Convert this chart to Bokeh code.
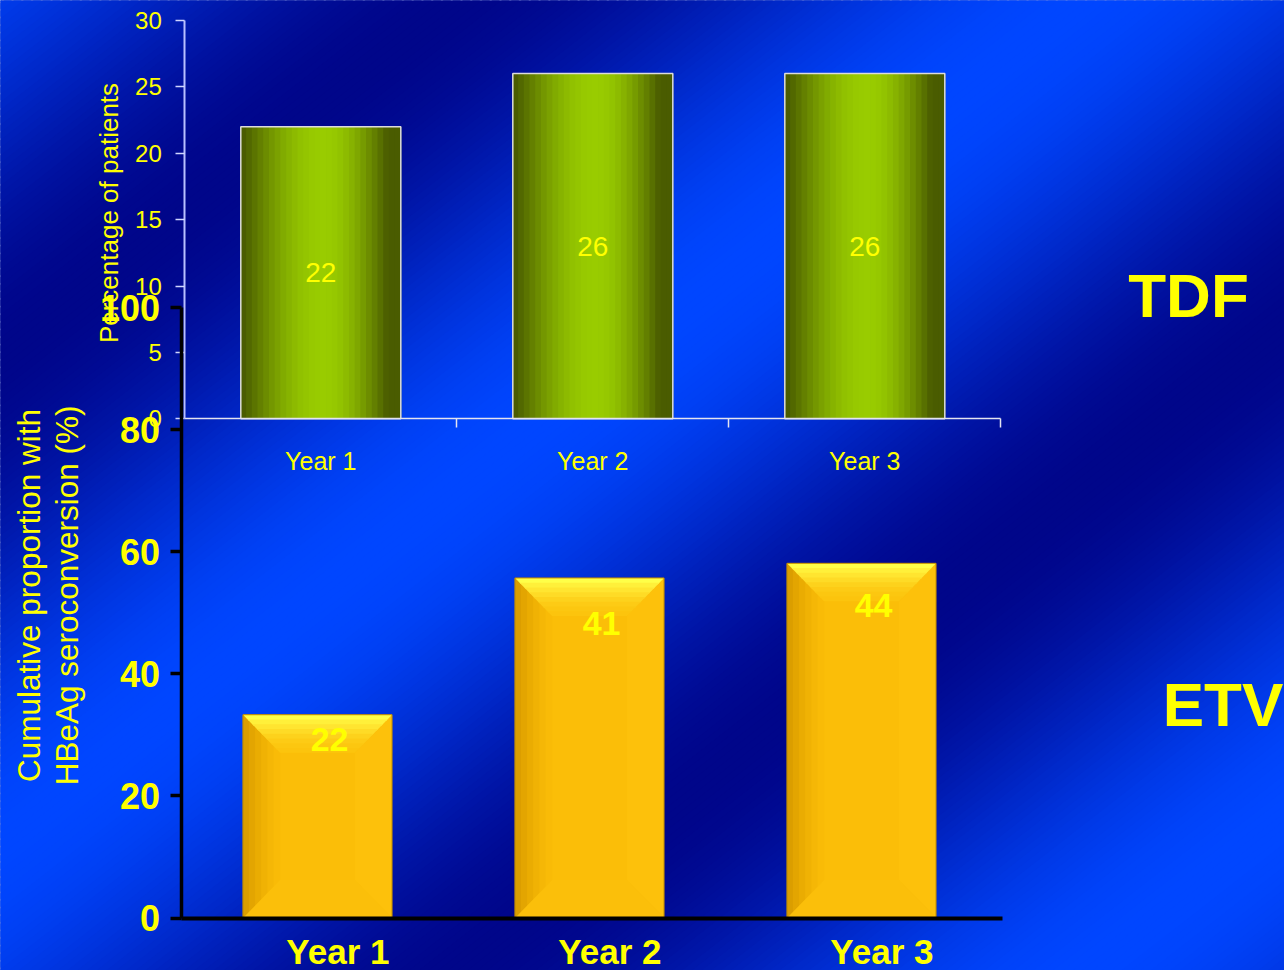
import numpy as np
from bokeh.plotting import figure
from bokeh.models import Range1d, LinearAxis, FixedTicker
from bokeh.core.properties import value
from bokeh.embed import file_html
from bokeh.resources import INLINE

# ---------------- data ----------------
years = ["Year 1", "Year 2", "Year 3"]
tdf_values = [22, 26, 26]
tdf_ticks = [0, 5, 10, 15, 20, 25, 30]
etv_bar_heights = [33.3, 55.7, 58.1]
etv_labels = [22, 41, 44]
etv_ticks = [0, 20, 40, 60, 80, 100]
tdf_title = "Percentage of patients"
etv_title = ["Cumulative proportion with", "HBeAg  seroconversion (%)"]
drug_names = ["TDF", "ETV"]

# ---------------- layout constants (pixels) ----------------
W, H = 1284, 970
FONT = "Liberation Sans"
YEL = "#ffff00"
CAT0, CATW = 184.3, 272.0          # px of category coordinate 0, px per category
TDF0, TDFK = 418.3, 13.28          # px of TDF value 0, px per unit
ETV0, ETVK = 917.5, 6.105          # px of ETV value 0, px per unit

p = figure(width=W, height=H, x_range=Range1d(0, W), y_range=Range1d(H, 0),
           x_axis_type=None, y_axis_type=None, toolbar_location=None,
           output_backend="svg", min_border=0, outline_line_color=None,
           background_fill_color="#0020b0", border_fill_color="#0020b0")
p.title.visible = False
p.extra_x_ranges = {"cat": Range1d(-CAT0 / CATW, (W - CAT0) / CATW)}
p.extra_y_ranges = {"tdf": Range1d(-(H - TDF0) / TDFK, TDF0 / TDFK),
                    "etv": Range1d(-(H - ETV0) / ETVK, ETV0 / ETVK)}

# ---------------- background (diagonal bands) ----------------
nx, ny = 0.615, 0.789
nn = np.hypot(nx, ny); nx /= nn; ny /= nn
ux, uy = ny, -nx
L = 3000
step = 6
dark = np.array([0, 0, 128.0]); bright = np.array([0, 70, 255.0])
bxs, bys, bcols = [], [], []
for t in np.arange(-40, 1750, step):
    t1 = t + step * 1.8
    wgt = (1 - np.cos(2 * np.pi * (t + step / 2 - 280) / 770)) / 2
    wgt = 0.08 + 0.92 * wgt
    c = dark + (bright - dark) * wgt
    bcols.append("#%02x%02x%02x" % tuple(int(round(v)) for v in c))
    bxs.append([nx * t - L * ux, nx * t + L * ux, nx * t1 + L * ux, nx * t1 - L * ux])
    bys.append([ny * t - L * uy, ny * t + L * uy, ny * t1 + L * uy, ny * t1 - L * uy])
p.patches(bxs, bys, fill_color=bcols, line_color=None)

# ---------------- TDF bars (cylindrical gradient) ----------------
tdf_x = [i + 0.5 for i in range(len(years))]
tdf_w = 160 / CATW
n_strip = 28
g_dark = np.array([0x4a, 0x5c, 0x00], float)
g_bright = np.array([0x99, 0xcc, 0x00], float)
sx, stop, scol = [], [], []
for c, v in zip(tdf_x, tdf_values):
    for j in range(n_strip):
        u = (j + 0.5) / n_strip
        if u < 0.52:
            f = max(0.0, np.cos(np.pi * (u - 0.52) / 1.0))
        else:
            f = max(0.0, np.cos(np.pi * (u - 0.52) / 0.8))
        col = g_dark + (g_bright - g_dark) * f
        sx.append(c - tdf_w / 2 + u * tdf_w)
        stop.append(v)
        scol.append("#%02x%02x%02x" % tuple(int(round(q)) for q in col))
p.vbar(x=sx, top=stop, bottom=0, width=tdf_w / n_strip * 1.15, fill_color=scol,
       line_color=None, x_range_name="cat", y_range_name="tdf")
p.vbar(x=tdf_x, top=tdf_values, bottom=0, width=tdf_w, fill_color=None,
       line_color="#dcdcdc", line_width=1.5, x_range_name="cat", y_range_name="tdf")
p.text(x=tdf_x, y=[v / 2 for v in tdf_values], text=[str(v) for v in tdf_values],
       x_range_name="cat", y_range_name="tdf", text_align="center", text_baseline="middle",
       text_font=value(FONT), text_font_size="28px", text_color=YEL)

# ---------------- ETV bars (bevelled) ----------------
etv_x = [i + 0.5 - 0.012 for i in range(len(years))]
etv_w = 149 / CATW
bx = 37 / CATW          # bevel width in category units
by = 38 / ETVK          # bevel height in ETV units
p.vbar(x=etv_x, top=etv_bar_heights, bottom=0, width=etv_w, fill_color="#fbbe08",
       line_color=None, x_range_name="cat", y_range_name="etv")

# left darker gradient strips
lx, ltop, lcol = [], [], []
lcols = ["#db9e00", "#e3a501", "#eaac02", "#f0b204", "#f5b706", "#f9bb07"]
for c, h in zip(etv_x, etv_bar_heights):
    l = c - etv_w / 2
    for j, cc in enumerate(lcols):
        lx.append(l + (j + 0.5) * bx / len(lcols))
        ltop.append(h)
        lcol.append(cc)
p.vbar(x=lx, top=ltop, bottom=0, width=bx / len(lcols) * 1.1, fill_color=lcol,
       line_color=None, x_range_name="cat", y_range_name="etv")

# right and bottom bevels
rxs, rys, bxs2, bys2 = [], [], [], []
for c, h in zip(etv_x, etv_bar_heights):
    l, r = c - etv_w / 2, c + etv_w / 2
    rxs.append([r, r - bx, r - bx, r]); rys.append([h, h - by, by, 0])
    bxs2.append([l, l + bx, r - bx, r]); bys2.append([0, by, by, 0])
p.patches(rxs, rys, fill_color="#fdc10b", line_color=None, x_range_name="cat", y_range_name="etv")
p.patches(bxs2, bys2, fill_color="#fbbf0a", line_color=None, x_range_name="cat", y_range_name="etv")

# top bevel (bright gradient slices)
tcols = ["#ffff48", "#fff03a", "#ffe530", "#fedb26", "#fdd21c", "#fdcb15", "#fcc710", "#fcc40d"]
txs, tys, tcs = [], [], []
ns = len(tcols)
for c, h in zip(etv_x, etv_bar_heights):
    l, r = c - etv_w / 2, c + etv_w / 2
    for k, cc in enumerate(tcols):
        d0, d1 = k / ns, (k + 1) / ns
        d1e = min(1.0, d1 + 0.3 / ns)
        txs.append([l + bx * d0, r - bx * d0, r - bx * d1e, l + bx * d1e])
        tys.append([h - by * d0, h - by * d0, h - by * d1e, h - by * d1e])
        tcs.append(cc)
p.patches(txs, tys, fill_color=tcs, line_color=None, x_range_name="cat", y_range_name="etv")
p.vbar(x=etv_x, top=etv_bar_heights, bottom=0, width=etv_w, fill_color=None,
       line_color="#c08c00", line_width=1, x_range_name="cat", y_range_name="etv")
p.text(x=etv_x, y=etv_labels, text=[str(v) for v in etv_labels], x_offset=12, y_offset=-44,
       x_range_name="cat", y_range_name="etv", text_align="center", text_baseline="middle",
       text_font=value(FONT), text_font_size="34px", text_font_style="bold", text_color=YEL)

# ---------------- axes ----------------
# TDF y axis
ax = LinearAxis(x_range_name="cat", y_range_name="tdf", fixed_location=0, bounds=(0, 30),
                ticker=FixedTicker(ticks=tdf_ticks, minor_ticks=[]))
ax.axis_line_color = "#b8c0ff"; ax.axis_line_width = 2
ax.major_tick_line_color = "#d0d6ff"; ax.major_tick_line_width = 1.5
ax.major_tick_out = 9; ax.major_tick_in = 0; ax.minor_tick_out = 0
ax.major_label_text_font = FONT; ax.major_label_text_font_size = "24px"
ax.major_label_text_color = YEL; ax.major_label_standoff = 14
p.add_layout(ax, "left")

# TDF x axis rule with separators
ax = LinearAxis(x_range_name="cat", y_range_name="tdf", fixed_location=0, bounds=(0, 3),
                ticker=FixedTicker(ticks=[1, 2, 3], minor_ticks=[]))
ax.axis_line_color = "#e4e4f0"; ax.axis_line_width = 1.5
ax.major_tick_line_color = "#e4e4f0"; ax.major_tick_line_width = 1.5
ax.major_tick_out = 9; ax.major_tick_in = 0; ax.minor_tick_out = 0
ax.major_label_text_color = None
p.add_layout(ax, "below")

# TDF x labels
ax = LinearAxis(x_range_name="cat", y_range_name="tdf", fixed_location=0,
                ticker=FixedTicker(ticks=tdf_x, minor_ticks=[]),
                major_label_overrides={x: n for x, n in zip(tdf_x, years)})
ax.axis_line_color = None; ax.major_tick_line_color = None; ax.minor_tick_line_color = None
ax.major_label_text_font = FONT; ax.major_label_text_font_size = "25px"
ax.major_label_text_color = YEL; ax.major_label_standoff = 22
p.add_layout(ax, "below")

# ETV y axis
ETV_AX_X = (180.5 - CAT0) / CATW
ax = LinearAxis(x_range_name="cat", y_range_name="etv", fixed_location=ETV_AX_X, bounds=(0, 100),
                ticker=FixedTicker(ticks=etv_ticks, minor_ticks=[]))
ax.axis_line_color = "black"; ax.axis_line_width = 3.5
ax.major_tick_line_color = "black"; ax.major_tick_line_width = 3.5
ax.major_tick_out = 11; ax.major_tick_in = 0; ax.minor_tick_out = 0
ax.major_label_text_font = FONT; ax.major_label_text_font_size = "36px"
ax.major_label_text_font_style = "bold"
ax.major_label_text_color = YEL; ax.major_label_standoff = 10
p.add_layout(ax, "left")

# ETV x axis
etv_lab_x = [i + 0.5 + 0.063 for i in range(len(years))]
ax = LinearAxis(x_range_name="cat", y_range_name="etv", fixed_location=0,
                bounds=(ETV_AX_X, (1001.5 - CAT0) / CATW),
                ticker=FixedTicker(ticks=etv_lab_x, minor_ticks=[]),
                major_label_overrides={x: n for x, n in zip(etv_lab_x, years)})
ax.axis_line_color = "black"; ax.axis_line_width = 4
ax.major_tick_line_color = None; ax.minor_tick_line_color = None
ax.major_label_text_font = FONT; ax.major_label_text_font_size = "35px"
ax.major_label_text_font_style = "bold"
ax.major_label_text_color = YEL; ax.major_label_standoff = 8
p.add_layout(ax, "below")

# ---------------- titles ----------------
p.text(x=[108], y=[212.5], text=[tdf_title], angle=np.pi / 2, text_align="center",
       text_baseline="middle", text_font=value(FONT), text_font_size="26px", text_color=YEL)
p.text(x=[28, 66], y=[595, 590.5], text=etv_title, angle=np.pi / 2, text_align="center",
       text_baseline="middle", text_font=value(FONT), text_font_size="31.5px", text_color=YEL)
p.text(x=[1188, 1222.5], y=[295, 703.5], text=drug_names, text_align="center",
       text_baseline="middle", text_font=value(FONT), text_font_size="62px",
       text_font_style="bold", text_color=YEL)

open("out.html", "w").write(file_html(p, INLINE))
